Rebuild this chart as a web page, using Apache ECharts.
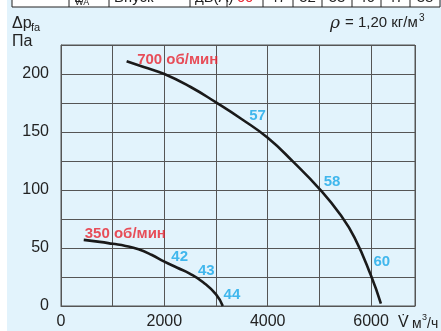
<!DOCTYPE html>
<html><head><meta charset="utf-8">
<script src="https://cdn.jsdelivr.net/npm/echarts@6/dist/echarts.min.js"></script>
<style>html,body{margin:0;padding:0;background:#e2f3fc}#c{width:441px;height:331px}</style>
</head><body><div id="c"></div>
<script>
// Data
const curve700 = [[1270,211],[1600,206],[2000,200],[2500,189],[3000,175.5],[3500,161],[4000,145],[4500,124],[5000,101],[5400,79],[5680,59],[6000,26],[6190,2]];
const curve350 = [[440,57],[750,55.3],[1000,53.6],[1250,51.8],[1500,48.9],[1750,44.2],[2000,38.2],[2250,33],[2490,28],[2750,20.5],[3000,10],[3130,0]];
const speedLabels = [{name:'700 об/мин', value:[2259,212]},{name:'350 об/мин', value:[1245,62.6]}];
const noiseLabels = [{name:'57', value:[3803,164]},{name:'58', value:[5245,106.7]},{name:'60', value:[6207,38]},{name:'42', value:[2297,42.2]},{name:'43', value:[2812,30.7]},{name:'44', value:[3307,9.9]}];
const xTickLabels = [0,2000,4000,6000];
const yTickLabels = [0,50,100,150,200];
const tableCells = ['', 'L', 'Впуск', 'дБ(A)', '60', '47', '52', '53', '46', '47', '38'];
const tableEdges = [12,69,109,190,227,263,293,322,352,381,410,440];

const chart = echarts.init(document.getElementById('c'));
const FONT = '"Liberation Sans", Arial, sans-serif';
const graphics = [
  {type:'rect', shape:{x:0,y:0,width:7,height:331}, style:{fill:'#ffffff'}, z:0},
  {type:'rect', shape:{x:12,y:-10,width:428,height:17}, style:{fill:'#ffffff', stroke:'#222', lineWidth:1}, z:1}
];
for (let i=1;i<tableEdges.length-1;i++){
  graphics.push({type:'line', shape:{x1:tableEdges[i],y1:-10,x2:tableEdges[i],y2:7}, style:{stroke:'#222',lineWidth:1}, z:2});
}
for (let i=1;i<tableCells.length;i++){
  const cx = i===1 ? tableEdges[i]+5 : (i<=3 ? tableEdges[i]+5 : (tableEdges[i]+tableEdges[i+1])/2);
  graphics.push({type:'text', x:cx, y:-2, style:{text:tableCells[i], fill: i===4?'#e8232e':'#222', font:'15px '+FONT, textAlign: i<=3?'left':'center', textVerticalAlign:'middle'}, z:3});
}
graphics.push({type:'text', x:75, y:3, style:{text:'WA', fill:'#222', font:'9px '+FONT, textVerticalAlign:'middle'}, z:3});
graphics.push(
  {type:'text', x:12, y:24, style:{text:'Δp', fill:'#222', font:'16px '+FONT, textVerticalAlign:'middle'}, z:3},
  {type:'text', x:31, y:28, style:{text:'fa', fill:'#222', font:'11px '+FONT, textVerticalAlign:'middle'}, z:3},
  {type:'text', x:12, y:42, style:{text:'Па', fill:'#222', font:'16px '+FONT, textVerticalAlign:'middle'}, z:3},
  {type:'text', x:330, y:24, style:{text:'ρ', fill:'#222', font:'italic 17px "DejaVu Serif", serif', textAlign:'left', textVerticalAlign:'middle'}, z:3},
  {type:'text', x:345, y:23, style:{text:'= 1,20 кг/м', fill:'#222', font:'15px '+FONT, textAlign:'left', textVerticalAlign:'middle'}, z:3},
  {type:'text', x:419, y:18, style:{text:'3', fill:'#222', font:'10px '+FONT, textAlign:'left', textVerticalAlign:'middle'}, z:3},
  {type:'text', x:398, y:323, style:{text:'V̇', fill:'#222', font:'16px '+FONT, textVerticalAlign:'middle'}, z:3},
  {type:'text', x:412, y:324, style:{text:'м', fill:'#222', font:'14px '+FONT, textVerticalAlign:'middle'}, z:3},
  {type:'text', x:422, y:318, style:{text:'3', fill:'#222', font:'9px '+FONT, textVerticalAlign:'middle'}, z:3},
  {type:'text', x:427, y:324, style:{text:'/ч', fill:'#222', font:'14px '+FONT, textVerticalAlign:'middle'}, z:3}
);

chart.setOption({
  backgroundColor:'#e2f3fc',
  animation:false,
  grid:{left:61, right:26, top:45, bottom:25, show:true, borderColor:'#555', borderWidth:1, backgroundColor:'transparent'},
  xAxis:{type:'value', min:0, max:6850, interval:1000,
    axisLine:{show:true, lineStyle:{color:'#555'}}, axisTick:{show:false},
    splitLine:{show:true, lineStyle:{color:'#555', width:1}},
    axisLabel:{margin:8, color:'#222', fontSize:16, fontFamily:FONT, showMaxLabel:false,
      formatter:v=> xTickLabels.includes(v) ? String(v) : ''}},
  yAxis:{type:'value', min:0, max:225, interval:25,
    axisLine:{show:true, lineStyle:{color:'#555'}}, axisTick:{show:false},
    splitLine:{show:true, lineStyle:{color:'#555', width:1}},
    axisLabel:{margin:12, color:'#222', fontSize:16, fontFamily:FONT,
      formatter:v=> yTickLabels.includes(v) ? String(v) : ''}},
  graphic: graphics,
  series:[
    {type:'line', data:curve700, smooth:0.5, showSymbol:false, lineStyle:{color:'#1a1a1a', width:2.6}, z:5},
    {type:'line', data:curve350, smooth:0.5, showSymbol:false, lineStyle:{color:'#1a1a1a', width:2.6}, z:5},
    {type:'scatter', data:speedLabels, symbolSize:0, z:6,
      label:{show:true, position:'inside', formatter:'{b}', color:'#e8232e', fontWeight:'bold', fontSize:15, fontFamily:FONT}},
    {type:'scatter', data:noiseLabels, symbolSize:0, z:6,
      label:{show:true, position:'inside', formatter:'{b}', color:'#18a8e8', fontWeight:'bold', fontSize:15, fontFamily:FONT}}
  ]
});
</script></body></html>
